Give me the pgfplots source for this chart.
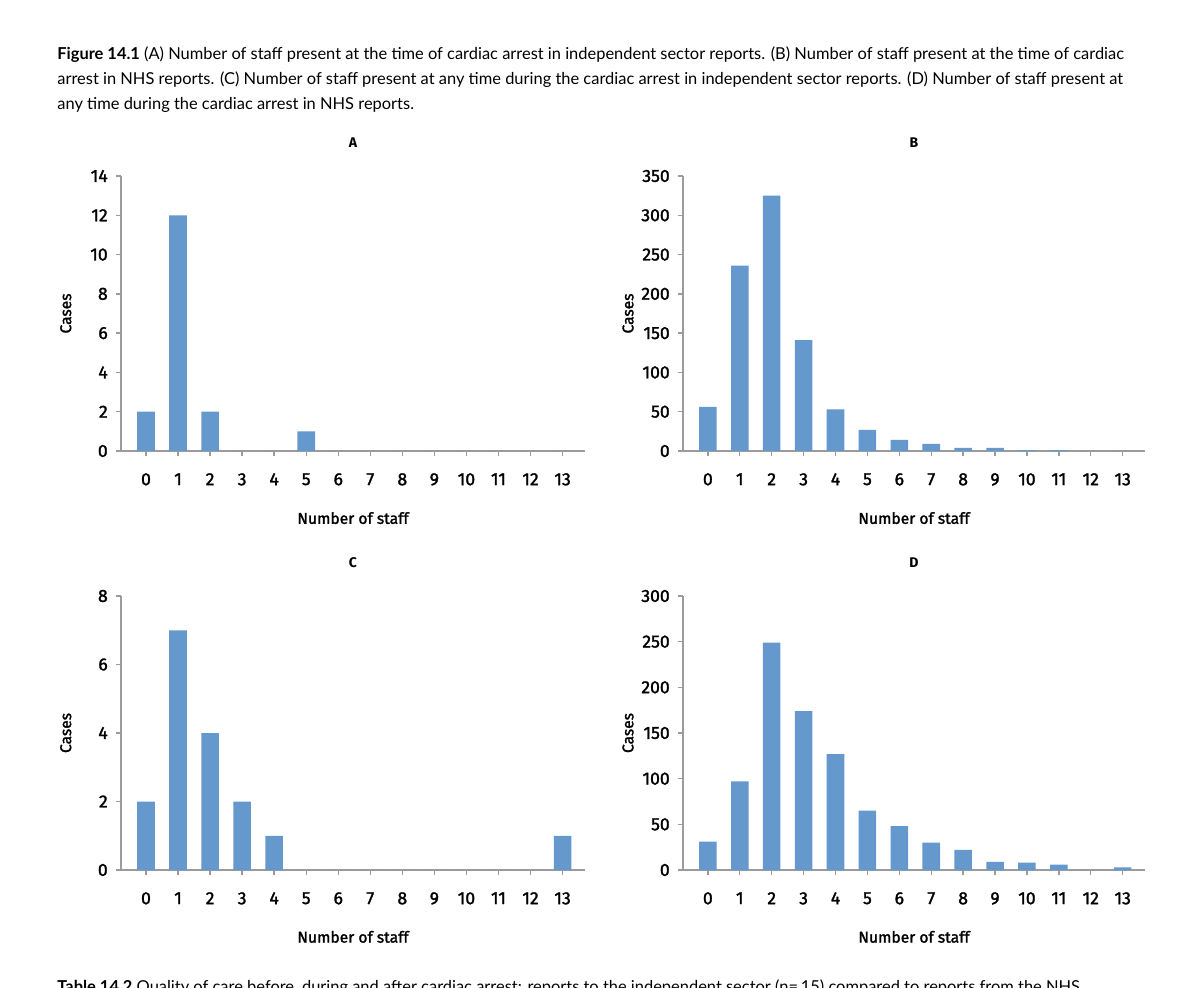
\documentclass[border=0pt]{standalone}
\usepackage{fontspec}
\setmainfont{Fira Sans}
\newfontfamily\capfont{Lato}
\newfontfamily\tickfont{Fira Sans}[FakeBold=1.6]
\usepackage{pgfplots}
\pgfplotsset{compat=1.18}

\definecolor{barblue}{RGB}{101,152,205}
\definecolor{axisgrey}{RGB}{155,155,155}

% Shared look of the four staff-count histograms
\pgfplotsset{
  staffbars/.style={
    scale only axis,
    width=232pt,
    height=137.5pt,
    anchor=south west,
    axis lines*=left,
    axis line style={axisgrey, line width=0.7pt},
    xmin=-0.78, xmax=13.7,
    ymin=0,
    xtick={0,...,13},
    tick align=outside,
    major tick length=2.6pt,
    tick style={axisgrey, line width=0.7pt},
    /pgf/number format/assume math mode=true,
    ticklabel style={font=\tickfont\fontsize{8.8}{10}\selectfont, text=black},
    xticklabel style={yshift=-5pt},
    yticklabel style={xshift=-0.5pt},
    every axis title/.style={at={(axis description cs:0.5,1.12)}, anchor=center,
      font=\bfseries\fontsize{7}{8}\selectfont},
    every axis x label/.style={at={(axis description cs:0.5,-0.244)}, anchor=center,
      font=\tickfont\fontsize{7.8}{9}\selectfont},
    every axis y label/.style={at={(axis description cs:-0.119,0.5)}, anchor=center,
      rotate=90, font=\tickfont\fontsize{7.8}{9}\selectfont},
    xlabel={Number of staff},
    ylabel={Cases},
    clip=false,
  },
  staffbar/.style={ybar, bar width=0.55, fill=barblue, draw=none, bar shift=0pt},
}

\pgfplotstableread{
staff  A   B    C   D
0      2   56   2   31
1      12  236  7   97
2      2   325  4   249
3      0   141  2   174
4      0   53   1   127
5      1   27   0   65
6      0   14   0   48
7      0   9    0   30
8      0   4    0   22
9      0   4    0   9
10     0   1    0   8
11     0   1    0   6
12     0   0    0   0
13     0   0    1   3
}\staffdata

\begin{document}
\begin{tikzpicture}
\useasboundingbox (0,0) rectangle (600pt,493.5pt);
\fill[white] (0,0) rectangle (600pt,493.5pt);

% Figure caption
\begin{scope}[every node/.style={anchor=base west, inner sep=0pt, font=\capfont\fontsize{8.22}{10}\selectfont}]
\node at (28.5pt,463.5pt) {\textbf{Figure 14.1} (A) Number of staff present at the time of cardiac arrest in independent sector reports. (B) Number of staff present at the time of cardiac};
\node at (28.5pt,451pt) {arrest in NHS reports. (C) Number of staff present at any time during the cardiac arrest in independent sector reports. (D) Number of staff present at};
\node at (28.5pt,438.5pt) {any time during the cardiac arrest in NHS reports.};
\node at (28.5pt,-2.5pt) {\textbf{Table 14.2} Quality of care before, during and after cardiac arrest: reports to the independent sector (n=\,15) compared to reports from the NHS};
\end{scope}

% (A)
\begin{axis}[staffbars, at={(60.5pt,268pt)}, ymax=14, ytick={0,2,...,14}, title={A}]
  \addplot[staffbar] table[x=staff, y=A] {\staffdata};
\end{axis}

% (B)
\begin{axis}[staffbars, at={(341.5pt,268pt)}, width=231pt, ymax=350, ytick={0,50,...,350}, title={B}]
  \addplot[staffbar] table[x=staff, y=B] {\staffdata};
\end{axis}

% (C)
\begin{axis}[staffbars, at={(60.5pt,58.5pt)}, height=137pt, ymax=8, ytick={0,2,...,8}, title={C}]
  \addplot[staffbar] table[x=staff, y=C] {\staffdata};
\end{axis}

% (D)
\begin{axis}[staffbars, at={(341.5pt,58.5pt)}, width=231pt, height=137pt, ymax=300, ytick={0,50,...,300}, title={D}]
  \addplot[staffbar] table[x=staff, y=D] {\staffdata};
\end{axis}
\end{tikzpicture}
\end{document}
